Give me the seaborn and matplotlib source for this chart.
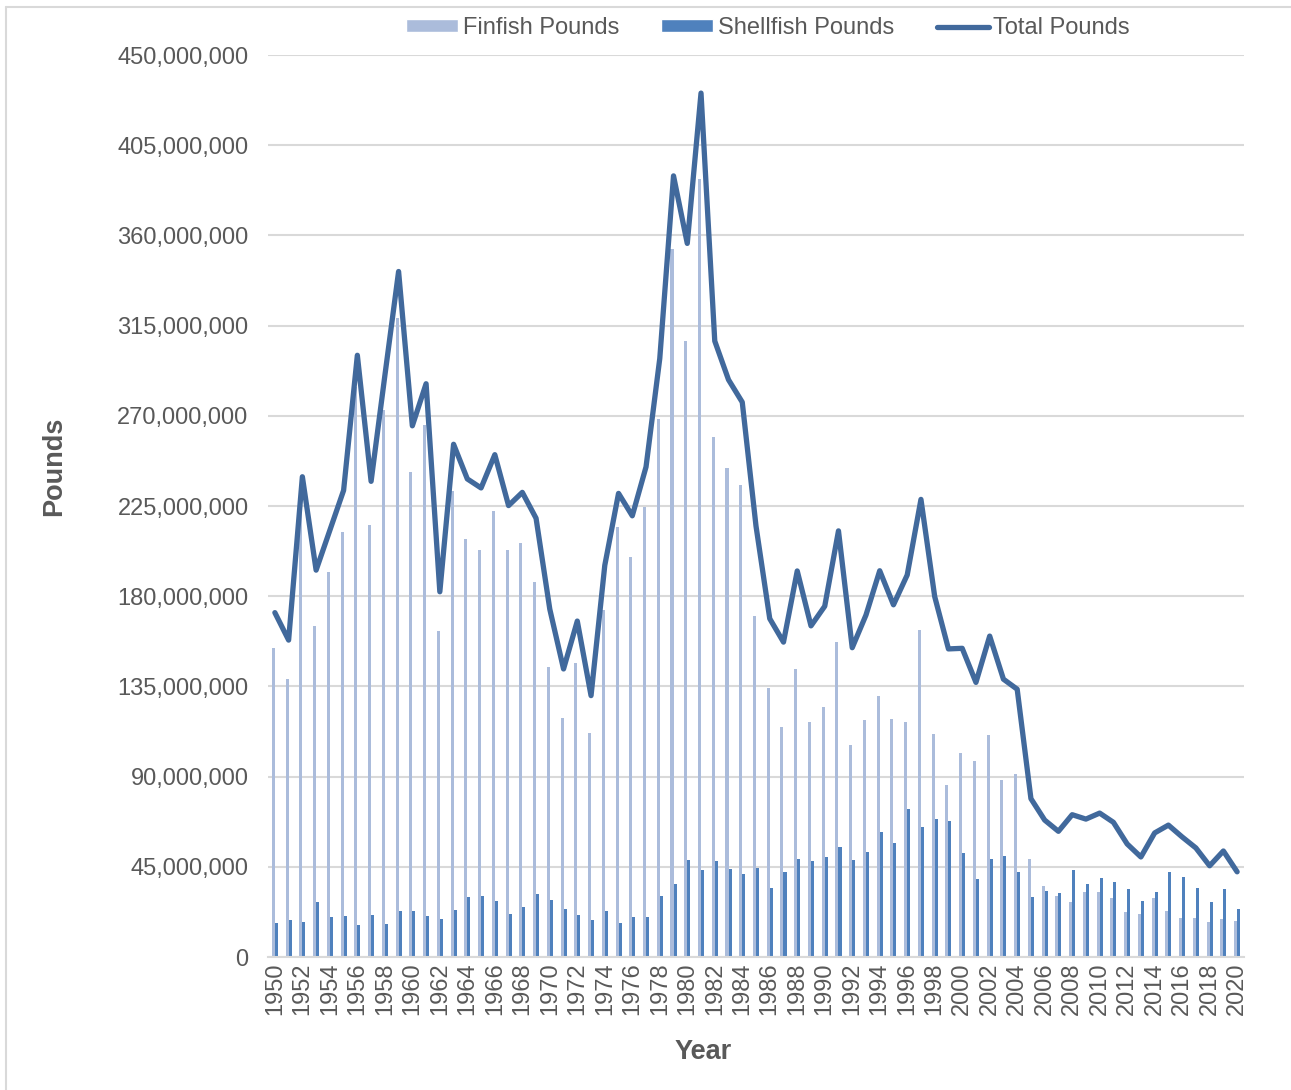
# Finfish / shellfish / total landings by year, 1950-2020
import matplotlib
matplotlib.use('Agg')
import numpy as np
import pandas as pd
import matplotlib.pyplot as plt
from matplotlib.ticker import FuncFormatter, MultipleLocator
from matplotlib.patches import Patch
from matplotlib.lines import Line2D
import seaborn as sns

sns.set_theme(style='white')
plt.rcParams['font.family'] = ['Liberation Sans', 'DejaVu Sans']

# ── Data (millions of pounds) ───────────────────────────────────────────────
YEARS = list(range(1950, 2021))

FINFISH_M = [
    154.4, 138.9, 222.2, 164.9, 192.3, 212.0, 284.3, 215.6, 272.7, 318.9,
    241.9, 265.4, 162.6, 232.3, 208.3, 203.1, 222.7, 202.8, 206.5, 187.3,
    144.8, 119.2, 146.6, 111.7, 172.9, 214.3, 199.6, 224.4, 268.6, 353.4,
    307.5, 388.0, 259.4, 243.8, 235.4, 170.2, 134.3, 114.7, 143.6, 117.2,
    124.9, 157.4, 105.9, 118.2, 130.2, 118.6, 117.2, 163.2, 111.4, 86.0,
    102.0, 98.0, 110.9, 88.3, 91.2, 49.0, 35.2, 30.2, 27.2, 32.2,
    32.2, 29.5, 22.3, 21.7, 29.2, 23.0, 19.7, 19.5, 17.7, 18.8,
    18.2,
]
SHELLFISH_M = [
    17.2, 18.7, 17.4, 27.3, 20.1, 20.6, 15.9, 20.9, 16.4, 22.9,
    22.8, 20.7, 19.2, 23.6, 29.8, 30.4, 27.9, 21.7, 25.1, 31.3,
    28.3, 24.1, 20.9, 18.4, 22.8, 17.1, 20.2, 19.9, 30.4, 36.3,
    48.2, 43.4, 48.0, 43.8, 41.3, 44.3, 34.3, 42.3, 48.8, 47.8,
    49.8, 54.9, 48.3, 52.3, 62.4, 57.0, 73.6, 64.9, 68.6, 67.6,
    52.0, 38.9, 49.1, 50.3, 42.3, 29.8, 32.7, 32.0, 43.3, 36.3,
    39.3, 37.5, 33.7, 27.8, 32.2, 42.3, 39.8, 34.3, 27.5, 33.7,
    24.0,
]
TOTAL_M = [
    171.8, 158.1, 239.6, 193.0, 212.9, 232.8, 300.2, 237.3, 290.0, 342.0,
    265.0, 286.0, 182.2, 255.8, 238.5, 234.0, 250.6, 225.2, 231.8, 218.9,
    173.5, 143.7, 167.6, 130.4, 195.4, 231.3, 220.1, 244.5, 298.6, 389.7,
    356.0, 431.0, 307.3, 288.0, 276.8, 215.0, 168.8, 157.1, 192.6, 165.2,
    175.0, 212.6, 154.3, 170.6, 192.7, 175.7, 190.6, 228.3, 179.8, 153.7,
    154.0, 137.0, 160.1, 138.6, 133.6, 79.0, 68.3, 62.7, 71.0, 68.8,
    71.8, 67.2, 56.4, 49.9, 61.9, 65.8, 59.9, 54.4, 45.5, 52.9,
    42.5,
]

FIN_COLOR = '#ABBCDB'
SHELL_COLOR = '#4F81BD'
TOTAL_COLOR = '#41699C'
GRID = '#D9D9D9'
TEXT = '#595959'

year_lbl = [str(y) for y in YEARS]
bars = pd.DataFrame({
    'Year': year_lbl * 2,
    'Pounds': np.array(FINFISH_M + SHELLFISH_M) * 1e6,
    'Series': ['Finfish Pounds'] * len(YEARS) + ['Shellfish Pounds'] * len(YEARS),
})
total = pd.DataFrame({'pos': np.arange(len(YEARS)), 'Pounds': np.array(TOTAL_M) * 1e6})

# ── Figure ───────────────────────────────────────────────────────────────────
W, H = 1291, 1090
fig = plt.figure(figsize=(W / 100, H / 100), dpi=100)
ax = fig.add_axes([268 / W, 1 - 957 / H, 976 / W, 902 / H])

sns.barplot(data=bars, x='Year', y='Pounds', hue='Series',
            palette=[FIN_COLOR, SHELL_COLOR], width=0.44, gap=0,
            saturation=1, errorbar=None, linewidth=0, legend=False, ax=ax)
sns.lineplot(data=total, x='pos', y='Pounds', color=TOTAL_COLOR, linewidth=3.8,
             solid_joinstyle='round', solid_capstyle='round', ax=ax, zorder=5)

ax.set_xlim(-0.5, len(YEARS) - 0.5)
ax.set_ylim(0, 450e6)
ax.yaxis.set_major_locator(MultipleLocator(45e6))
ax.yaxis.set_major_formatter(FuncFormatter(lambda v, p: f'{v:,.0f}'))
ax.set_xticks(np.arange(0, len(YEARS), 2))
ax.set_xticklabels(year_lbl[::2], rotation=90)

ax.grid(axis='y', color=GRID, linewidth=1.5)
ax.grid(axis='x', visible=False)
ax.set_axisbelow(True)
for s in ['left', 'top', 'right']:
    ax.spines[s].set_visible(False)
ax.spines['bottom'].set_color(GRID)
ax.spines['bottom'].set_linewidth(1.5)

ax.tick_params(axis='y', length=0, pad=14, labelsize=17, labelcolor=TEXT)
ax.tick_params(axis='x', length=0, pad=4, labelsize=17, labelcolor=TEXT)

ax.set_ylabel('Pounds', fontsize=19.5, fontweight='bold', color=TEXT)
ax.yaxis.set_label_coords(-0.206, 0.544)
ax.set_xlabel('Year', fontsize=19.5, fontweight='bold', color=TEXT)
ax.xaxis.set_label_coords(0.4457, -0.091)

handles = [
    Patch(facecolor=FIN_COLOR, label='Finfish Pounds'),
    Patch(facecolor=SHELL_COLOR, label='Shellfish Pounds'),
    Line2D([0], [0], color=TOTAL_COLOR, linewidth=3.8, solid_capstyle='round',
           label='Total Pounds'),
]
leg = fig.legend(handles=handles, loc='center', bbox_to_anchor=(768 / W, 1 - 28 / H),
                 ncol=3, frameon=False, fontsize=17, handlelength=2.2,
                 handleheight=0.42, handletextpad=0.2, columnspacing=1.8)
for t in leg.get_texts():
    t.set_color(TEXT)

# light frame around the chart area
fig.add_artist(Line2D([6 / W, 6 / W], [0, 1 - 7 / H], transform=fig.transFigure,
                      color=GRID, linewidth=1.5))
fig.add_artist(Line2D([6 / W, 1], [1 - 7 / H, 1 - 7 / H], transform=fig.transFigure,
                      color=GRID, linewidth=1.5))

fig.savefig('out.png', dpi=100)
